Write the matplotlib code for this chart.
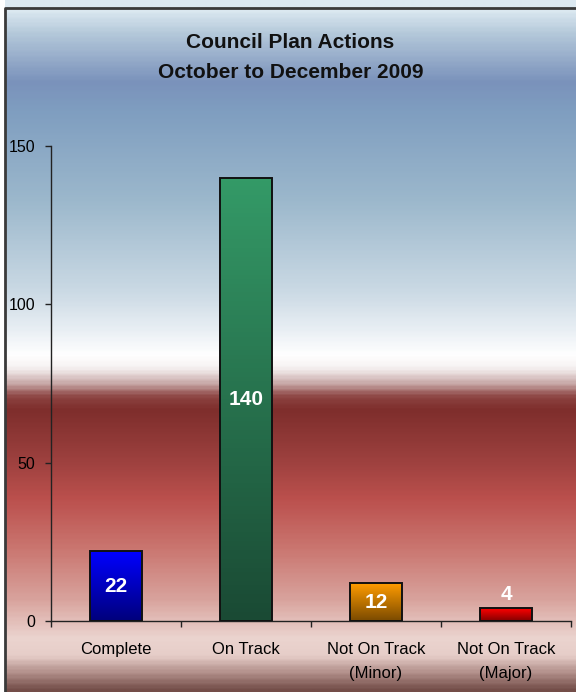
import numpy as np
import matplotlib
matplotlib.use("Agg")
import matplotlib.pyplot as plt
from matplotlib.colors import LinearSegmentedColormap

plt.rcParams["font.family"] = ["Liberation Sans", "DejaVu Sans"]

categories = ["Complete", "On Track", "Not On Track\n(Minor)", "Not On Track\n(Major)"]
values = [22, 140, 12, 4]
# (top colour, bottom colour) of each bar's vertical gradient
bar_colors = [("#0000ff", "#00007c"), ("#349a67", "#1a4a34"),
              ("#ff9c00", "#7a4a00"), ("#ff0000", "#840000")]
yticks = [0, 50, 100, 150]

W, H = 576, 692
fig = plt.figure(figsize=(W / 100, H / 100), dpi=100)

# background gradient (pixel rows from top -> colour)
stops = [(0, "#dce9f1"), (8, "#dce9f1"), (30, "#b6cadb"), (80, "#7a92bb"), (110, "#7f9ec0"),
         (200, "#9cb8cc"), (290, "#cad9e4"), (330, "#e9eff4"), (355, "#ffffff"),
         (368, "#f6f2f2"), (385, "#c4a2a1"), (397, "#8c4341"), (410, "#7e2e2c"),
         (460, "#9c403e"), (500, "#bb504d"), (550, "#ca7670"), (600, "#d8a29c"),
         (640, "#ebd4cf"), (658, "#e6cdc8"), (675, "#b08d88"), (692, "#744e49")]
cmap = LinearSegmentedColormap.from_list("bg", [(p / H, c) for p, c in stops])
bg = fig.add_axes([0, 0, 1, 1], zorder=-10)
bg.imshow(np.linspace(0, 1, 400).reshape(-1, 1), cmap=cmap, aspect="auto",
          extent=[5, W + 5, H, 0], interpolation="bilinear")
bg.plot([5, 5, W + 5], [H, 8, 8], color="#3a3a3a", lw=2.0)
bg.set_xlim(0, W)
bg.set_ylim(H, 0)
bg.axis("off")

cx = 0.5 * (5 + W) / W
fig.text(cx, 1 - 43 / H, "Council Plan Actions", ha="center", va="center",
         fontsize=15, fontweight="bold", color="#111111")
fig.text(cx, 1 - 72 / H, "October to December 2009", ha="center", va="center",
         fontsize=15, fontweight="bold", color="#111111")

ax = fig.add_axes([51 / W, 1 - 621 / H, 520 / W, (621 - 146) / H])
ax.set_facecolor("none")
x = np.arange(len(categories))
bars = ax.bar(x, values, width=0.4, edgecolor="#111111", linewidth=1.4, facecolor="none", zorder=3)
grad = np.linspace(0, 1, 100).reshape(-1, 1)
for b, (top, bot) in zip(bars, bar_colors):
    cm = LinearSegmentedColormap.from_list("b", [top, bot])
    im = ax.imshow(grad, cmap=cm, aspect="auto", zorder=2,
                   extent=[b.get_x(), b.get_x() + b.get_width(), 0, b.get_height()])
    im.set_clip_path(b)
for xi, v in zip(x, values):
    if v >= 10:
        ax.text(xi, v / 2, str(v), ha="center", va="center", color="white",
                fontsize=15, fontweight="bold", zorder=4)
    else:
        ax.text(xi, v + 1.5, str(v), ha="center", va="bottom", color="white",
                fontsize=15, fontweight="bold", zorder=4)

ax.set_xlim(-0.5, len(categories) - 0.5)
ax.set_ylim(0, 150)
ax.set_yticks(yticks)
ax.set_yticklabels([str(t) for t in yticks], fontsize=11.5)
ax.set_xticks(x)
ax.set_xticklabels(categories, fontsize=12, linespacing=1.75)
ax.tick_params(axis="x", length=0, pad=15)
ax.set_xticks(np.arange(-0.5, len(categories)), minor=True)
ax.tick_params(axis="x", which="minor", length=4.3, width=1, color="#222222", direction="out")
ax.tick_params(axis="y", length=4.3, width=1, color="#222222", direction="out", pad=7)
for s in ["top", "right"]:
    ax.spines[s].set_visible(False)
for s in ["left", "bottom"]:
    ax.spines[s].set_color("#222222")
    ax.spines[s].set_linewidth(1)

fig.savefig("out.png", dpi=100)
